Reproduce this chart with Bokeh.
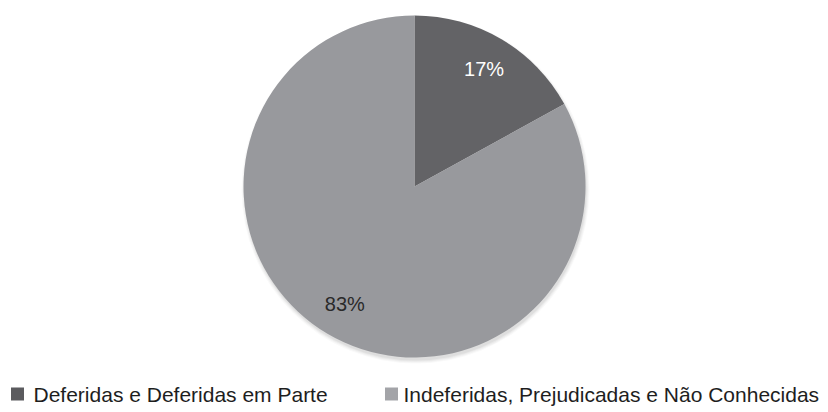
import math
from bokeh.plotting import figure
from bokeh.models import Range1d, ColumnDataSource
from bokeh.core.properties import value
from bokeh.embed import file_html
from bokeh.resources import INLINE

# ---- data ----
categories = ["Deferidas e Deferidas em Parte", "Indeferidas, Prejudicadas e Não Conhecidas"]
shares = [17, 83]
pct_labels = ["17%", "83%"]

# ---- styles ----
slice_colors = ["#636366", "#98999d"]
legend_colors = ["#5b5b5e", "#a3a4a8"]
label_colors = ["#ffffff", "#2a2a2a"]
FONT = "Liberation Sans"

W, H = 828, 412
p = figure(width=W, height=H, output_backend="svg", toolbar_location=None,
           x_range=Range1d(0, W), y_range=Range1d(0, H), min_border=0,
           border_fill_color="white", background_fill_color="white")
p.axis.visible = False
p.grid.visible = False
p.outline_line_color = None

cx, cy, r = 414, 226, 171

# soft shadow (mostly below the pie)
for i, a in enumerate([0.025, 0.03, 0.035, 0.04]):
    p.circle(x=[cx + 1], y=[cy - 3], radius=r + 3 - i, fill_color="black",
             fill_alpha=a, line_color=None)

total = float(sum(shares))
starts, ends, lx, ly = [], [], [], []
acc = 0.0
for v in shares:
    a0 = math.pi / 2 - 2 * math.pi * acc / total
    a1 = math.pi / 2 - 2 * math.pi * (acc + v) / total
    starts.append(a0)
    ends.append(a1)
    mid = (a0 + a1) / 2
    lx.append(cx + 0.8 * r * math.cos(mid))
    ly.append(cy + 0.8 * r * math.sin(mid))
    acc += v

src = ColumnDataSource(dict(start=starts, end=ends, color=slice_colors,
                            lx=lx, ly=ly, lab=pct_labels, lc=label_colors))
p.wedge(x=cx, y=cy, radius=r, start_angle="start", end_angle="end",
        direction="clock", fill_color="color", line_color=None, source=src)
p.text(x="lx", y="ly", text="lab", text_color="lc", text_align="center",
       text_baseline="middle", text_font=value(FONT), text_font_size="20px",
       source=src)

# legend
sq_x = [17, 391]
tx_x = [33, 403]
leg = ColumnDataSource(dict(sx=sq_x, sy=[18.5, 18.5], tx=tx_x, ty=[18.5, 18.5],
                            c=legend_colors, t=categories))
p.scatter(x="sx", y="sy", marker="square", size=13, fill_color="c",
          line_color=None, source=leg)
p.text(x="tx", y="ty", text="t", text_color="#1e1e1e", text_align="left",
       text_baseline="middle", text_font=value(FONT), text_font_size="21px",
       source=leg)

open("out.html", "w").write(file_html(p, INLINE))
